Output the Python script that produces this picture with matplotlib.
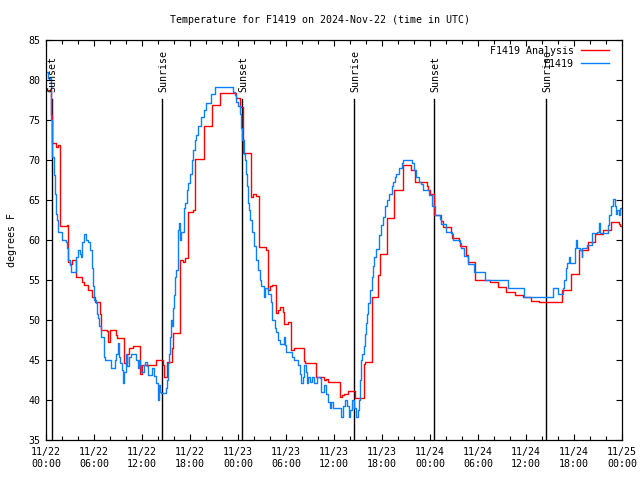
import matplotlib
matplotlib.use('Agg')
import matplotlib.pyplot as plt
from matplotlib.ticker import MultipleLocator, FixedLocator, NullLocator

plt.rcParams['font.family'] = ['DejaVu Sans Mono']
FS = 7.2

# ---- data (hours since 2024-11-22 00:00 UTC, degrees F) ----
red_h = [0.25, 0.6, 0.8, 1.2, 1.45, 1.7, 2.6, 2.7, 3.0, 3.3, 3.7, 4.5, 4.8, 5.3, 5.8, 6.1, 6.7, 6.9,
         7.6, 7.75, 8.0, 8.4, 8.7, 8.9, 9.75, 10.1, 10.4, 10.9, 11.75, 12.0, 13.8, 14.6, 14.75, 15.1,
         15.7, 15.9, 16.75, 17.1, 17.4, 17.7, 18.4, 18.6, 19.7, 20.7, 21.7, 23.8, 24.2, 24.67, 25.65,
         25.9, 26.2, 26.6, 27.5, 27.7, 28.0, 28.3, 28.7, 29.0, 29.3, 29.6, 29.7, 30.3, 30.6, 31.0, 32.2,
         32.4, 33.7, 34.7, 35.0, 35.3, 36.7, 37.0, 37.3, 37.7, 38.65, 39.7, 39.9, 40.7, 41.55, 41.7,
         42.6, 43.5, 44.6, 45.6, 46.1, 47.6, 47.8, 48.0, 48.5, 49.4, 49.6, 50.6, 50.75, 51.6, 51.7,
         52.5, 52.75, 53.6, 55.5, 56.5, 57.5, 58.6, 59.6, 60.6, 61.6, 62.6, 63.6, 64.5, 65.6, 66.6,
         67.7, 68.6, 69.6, 70.6, 71.6, 71.8, 72.0]
red_t = [78.8, 75.6, 72.1, 71.6, 71.9, 61.8, 61.9, 57.3, 57.0, 57.5, 55.4, 54.8, 54.4, 53.8, 52.9, 52.3, 50.8, 48.8,
         48.6, 47.3, 48.7, 48.8, 48.1, 47.8, 44.6, 45.8, 46.5, 46.75, 43.3, 44.4, 45.0, 44.4, 42.9, 44.75,
         46.5, 48.4, 57.5, 57.2, 57.8, 63.5, 63.75, 70.1, 74.2, 76.9, 78.4, 77.75, 76.6, 70.9, 65.4,
         65.7, 65.5, 59.1, 58.75, 53.7, 54.2, 54.4, 50.9, 51.3, 51.6, 51.0, 49.5, 49.7, 46.25, 46.5, 44.9,
         44.6, 42.9, 42.5, 42.6, 42.3, 40.4, 40.6, 40.8, 41.1, 40.2, 44.5, 44.8, 52.9, 55.6, 58.3,
         62.7, 66.25, 69.4, 68.8, 67.2, 66.7, 66.3, 65.8, 63.1, 62.4, 61.6, 60.9, 60.2, 59.9, 59.25,
         58.1, 57.3, 55.0, 54.7, 54.1, 53.5, 53.1, 52.9, 52.4, 52.3, 52.2, 52.3, 53.75, 55.8, 58.75,
         59.8, 60.8, 61.2, 62.3, 62.0, 61.8, 61.8]

blue_h = [0.1, 0.3, 0.58, 0.7, 0.8, 1.0, 1.15, 1.3, 1.4, 1.54, 2.04, 2.46, 2.67, 2.8, 3.0, 3.1, 3.8, 4.04,
          4.25, 4.4, 4.54, 4.75, 4.95, 5.3, 5.5, 5.7, 5.8, 5.9, 6.0, 6.2, 6.4, 6.5, 6.6, 6.9, 7.2, 7.3,
          7.4, 8.08, 8.6, 8.8, 9.0, 9.1, 9.3, 9.45, 9.6, 9.75, 9.96, 10.15, 10.4, 10.6, 11.3, 11.5,
          11.65, 11.8, 11.9, 12.2, 12.4, 12.6, 12.8, 13.3, 13.5, 13.8, 14.05, 14.15, 14.25, 14.4, 15.0,
          15.1, 15.3, 15.4, 15.5, 15.6, 15.75, 15.9, 16.0, 16.1, 16.3, 16.45, 16.55, 16.65, 16.75,
          16.85, 17.2, 17.3, 17.4, 17.6, 17.8, 18.0, 18.2, 18.4, 18.6, 18.8, 19.0, 19.4, 19.7, 20.0,
          20.6, 21.1, 23.4, 23.6, 23.8, 24.0, 24.25, 24.4, 24.5, 24.7, 24.85, 25.0, 25.15, 25.3, 25.4,
          25.5, 25.7, 26.0, 26.25, 26.45, 26.7, 26.9, 27.2, 27.4, 27.8, 28.1, 28.3, 28.6, 28.8, 29.0,
          29.2, 29.7, 29.85, 30.0, 30.8, 31.0, 31.5, 31.7, 31.9, 32.1, 32.3, 32.5, 32.6, 32.8, 33.0,
          33.3, 33.45, 33.9, 34.2, 34.4, 34.7, 35.0, 35.3, 35.5, 35.6, 35.9, 36.9, 37.1, 37.4, 37.6,
          37.9, 38.05, 38.25, 38.45, 38.7, 38.95, 39.1, 39.2, 39.4, 39.55, 39.7, 39.85, 40.0, 40.15,
          40.25, 40.45, 40.7, 40.85, 41.0, 41.3, 41.6, 41.9, 42.1, 42.4, 42.6, 42.9, 43.2, 43.4, 43.6,
          43.8, 44.1, 44.5, 44.6, 45.8, 46.0, 46.2, 46.6, 46.9, 47.1, 47.9, 48.3, 48.6, 49.2, 49.4,
          50.0, 50.7, 50.85, 51.7, 51.9, 52.2, 52.75, 53.5, 54.9, 57.7, 59.8, 63.4, 64.05, 64.67, 64.8,
          64.95, 65.15, 65.4, 65.5, 66.1, 66.25, 66.4, 66.8, 66.95, 67.0, 67.6, 68.3, 68.9, 69.1, 69.3,
          70.2, 70.4, 70.6, 70.9, 71.1, 71.2, 71.4, 71.6, 71.8, 72.0]
blue_t = [81.0, 80.3, 75.0, 74.2, 70.4, 68.1, 65.8, 63.3, 62.5, 61.0, 60.0, 59.8, 59.0, 57.5, 56.9, 56.0, 57.9, 58.75,
          58.2, 57.9, 59.8, 60.8, 60.0, 59.8, 58.75, 57.5, 56.5, 54.2, 52.5, 52.1, 50.8, 50.2, 49.2, 47.9, 46.7, 45.4,
          45.0, 44.0, 45.0, 45.8, 47.1, 45.4, 44.6, 43.75, 42.1, 43.5, 45.8, 44.2, 45.4, 45.8, 45.0, 44.0,
          45.0, 44.4, 43.5, 44.4, 44.8, 44.2, 43.1, 44.0, 43.0, 42.1, 40.0, 41.9, 41.0, 40.9, 41.5,
          42.5, 44.6, 45.8, 47.9, 50.0, 49.2, 51.5, 53.1, 55.4, 56.25, 57.9, 61.25, 62.1, 60.0,
          61.0, 62.9, 64.0, 64.6, 66.25, 67.1, 68.3, 70.0, 71.25, 72.5, 73.1, 74.2, 75.4, 76.25, 77.1,
          78.2, 79.1, 78.5, 78.1, 77.3, 76.7, 75.8, 74.0, 72.5, 70.8, 70.0, 68.3, 66.7, 64.6, 63.75,
          62.5, 61.0, 59.2, 57.5, 56.25, 55.0, 54.2, 52.9, 54.0, 53.3, 52.3, 50.0, 49.0, 48.5, 47.5,
          47.0, 47.9, 46.9, 46.0, 45.4, 45.0, 44.4, 43.3, 42.1, 42.9, 44.4, 43.5, 42.1, 42.9, 42.3,
          42.9, 42.1, 42.9, 42.7, 41.0, 41.9, 40.8, 39.8, 39.0, 39.8, 39.0, 37.9, 39.2, 40.0, 39.2,
          37.9, 38.75, 40.0, 39.0, 37.9, 38.75, 40.0, 42.5, 45.0, 45.8, 46.7, 48.3, 49.6, 50.8,
          52.1, 53.75, 55.4, 56.7, 57.9, 58.9, 60.6, 61.9, 62.9, 64.2, 65.0, 65.8, 66.7, 67.2, 67.9,
          68.3, 69.0, 69.6, 70.0, 69.6, 68.75, 67.9, 67.2, 67.0, 66.25, 65.6, 64.2, 63.1, 62.6, 62.0,
          61.0, 60.75, 60.0, 59.6, 59.0, 58.0, 57.0, 56.0, 55.0, 54.0, 52.9, 54.0, 53.3, 54.0, 55.0,
          56.5, 57.1, 57.9, 57.1, 59.0, 60.0, 59.0, 58.75, 57.9, 59.0, 59.4, 60.9, 61.0, 62.1, 60.9,
          61.9, 63.1, 64.25, 65.1, 64.25, 63.3, 63.7, 63.1, 64.0, 64.0]

sunset_h = [0.7, 24.55, 48.55]
sunrise_h = [14.55, 38.55, 62.55]

xtick_h = [0, 6, 12, 18, 24, 30, 36, 42, 48, 54, 60, 66, 72]
xtick_labels = ['11/22\n00:00', '11/22\n06:00', '11/22\n12:00', '11/22\n18:00',
                '11/23\n00:00', '11/23\n06:00', '11/23\n12:00', '11/23\n18:00',
                '11/24\n00:00', '11/24\n06:00', '11/24\n12:00', '11/24\n18:00',
                '11/25\n00:00']

title = 'Temperature for F1419 on 2024-Nov-22 (time in UTC)'

# ---- figure ----
fig = plt.figure(figsize=(6.4, 4.8), dpi=100)
ax = fig.add_axes([46/640, 40/480, 576/640, 400/480])
ax.set_xlim(0, 72)
ax.set_ylim(35, 85)

line_top = 77.6
for h in sunset_h:
    ax.axvline(h, ymin=0, ymax=(line_top - 35) / 50, color='black', lw=1.0, zorder=1.5)
    ax.text(h + 0.15, 78.5, 'Sunset', rotation=90, ha='center', va='bottom', fontsize=FS)
for h in sunrise_h:
    ax.axvline(h, ymin=0, ymax=(line_top - 35) / 50, color='black', lw=1.0, zorder=1.5)
    ax.text(h + 0.15, 78.5, 'Sunrise', rotation=90, ha='center', va='bottom', fontsize=FS)

ax.step(red_h, red_t, where='post', color='#ff0000', lw=1.0, label='F1419 Analysis', zorder=2)
ax.step(blue_h, blue_t, where='post', color='#0a80ff', lw=1.0, label='F1419', zorder=2.1)

ax.xaxis.set_major_locator(FixedLocator(xtick_h))
ax.set_xticklabels(xtick_labels)
ax.xaxis.set_minor_locator(MultipleLocator(2))
ax.yaxis.set_major_locator(MultipleLocator(5))
ax.yaxis.set_minor_locator(NullLocator())
ax.tick_params(which='both', direction='in', top=True, right=True, width=0.8, labelsize=FS)
ax.tick_params(which='major', length=4.5)
ax.tick_params(which='minor', length=3.0)
ax.tick_params(axis='x', pad=5)
ax.tick_params(axis='y', pad=4)
for s in ax.spines.values():
    s.set_linewidth(0.9)

leg = ax.legend(loc='upper right', frameon=False, markerfirst=False, fontsize=FS,
                handlelength=2.8, handletextpad=0.7, labelspacing=0.3,
                borderpad=0.0, borderaxespad=0.0,
                bbox_to_anchor=((609 - 46) / 576, (440 - 46) / 400))

fig.text(0.5, 1 - 20/480, title, ha='center', va='center', fontsize=FS)
fig.text(12/640, 0.5, 'degrees F', rotation=90, ha='center', va='center', fontsize=FS)

fig.savefig('out.png', dpi=100)
